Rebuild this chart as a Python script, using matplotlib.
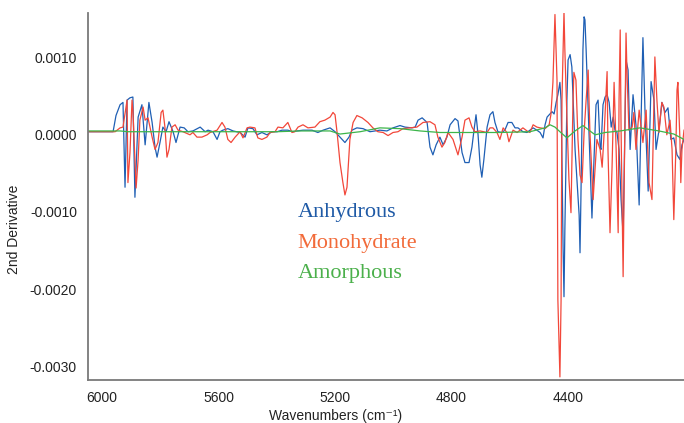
import matplotlib
matplotlib.use("Agg")
import matplotlib.pyplot as plt
import numpy as np

# 2nd derivative NIR spectra, values in units of 1e-4
anhydrous_wn = [6048, 5962, 5952, 5938, 5928, 5921, 5914, 5904, 5894, 5887, 5876, 5863, 5852, 5839,
                5828, 5818, 5811, 5801, 5791, 5780, 5770, 5756, 5746, 5732, 5718, 5705, 5688, 5663,
                5646, 5636, 5619, 5605, 5595, 5585, 5568, 5550, 5526, 5509, 5499, 5482, 5468, 5451,
                5434, 5416, 5399, 5382, 5362, 5345, 5331, 5310, 5296, 5279, 5259, 5241, 5217, 5200,
                5183, 5166, 5152, 5142, 5125, 5104, 5080, 5046, 5022, 5001, 4977, 4960, 4936, 4925,
                4915, 4901, 4884, 4874, 4864, 4853, 4840, 4829, 4816, 4805, 4788, 4778, 4764, 4754,
                4740, 4730, 4723, 4716, 4709, 4702, 4696, 4689, 4678, 4668, 4658, 4651, 4641, 4627,
                4617, 4606, 4593, 4582, 4572, 4555, 4541, 4531, 4520, 4507, 4496, 4486, 4479, 4472,
                4455, 4448, 4441, 4435, 4428, 4424, 4421, 4417, 4414, 4411, 4407, 4404, 4400, 4393,
                4387, 4380, 4376, 4369, 4362, 4359, 4356, 4352, 4349, 4345, 4342, 4338, 4331, 4325,
                4318, 4311, 4304, 4297, 4290, 4287, 4280, 4273, 4266, 4259, 4252, 4245, 4239, 4232,
                4225, 4218, 4211, 4201, 4194, 4187, 4177, 4167, 4156, 4143, 4136, 4125, 4115, 4105,
                4098, 4088, 4078, 4067, 4057, 4047, 4037, 4026, 4016, 4009, 4002]
anhydrous_val = [0.4, 0.4, 2.5, 3.9, 4.2, -6.8, 4.5, 4.8, 4.9, -8.1, 2.3, 3.9, -1.3, 4.2,
                 1.6, -1.6, -2.9, -1.0, 1.0, 0.4, 1.7, 0.4, -1.0, 1.0, 0.9, 0.4, 0.5, 1.0,
                 0.4, 0.6, 0.4, -0.6, 0.4, 0.6, 0.8, 0.5, 0.3, -0.3, 0.9, 0.8, 0.0, 0.3,
                 0.0, 0.4, 0.4, 0.6, 0.6, 0.4, 0.5, 0.6, 0.6, 0.6, 0.3, 0.6, 0.9, 0.4,
                 -0.3, -1.0, -0.3, 0.6, 0.9, 0.8, 0.4, 0.6, 0.5, 0.9, 1.2, 1.0, 0.9, 1.0,
                 1.9, 2.2, 1.6, -1.6, -2.6, -1.3, -0.3, -1.3, -0.3, 1.3, 2.1, 1.8, -2.3, -3.6,
                 -3.6, -1.6, 0.6, 2.6, 0.0, -3.9, -5.5, -3.2, 1.0, 2.6, 3.0, 1.6, 0.4, 0.3,
                 0.6, 1.6, 1.6, 0.9, 0.9, 0.4, 0.3, 0.6, 0.9, 0.6, 0.3, -0.4, 1.3, 2.3,
                 3.0, 2.7, 4.2, 5.2, 6.8, 4.5, -3.2, -14.9, -21.0, -12.3, -3.2, 4.5, 9.7, 10.4,
                 8.8, 1.9, -1.9, -6.2, -10.4, -15.3, -8.4, 1.9, 11.0, 15.3, 14.9, 11.0, 3.2, -3.2,
                 -10.8, -3.2, 3.9, 4.5, -1.6, -1.9, 3.9, 4.9, 5.2, 4.2, 1.0, 2.3, 0.6, 0.3,
                 -1.9, -8.4, -13.0, 9.7, 8.4, -1.9, 5.2, 1.3, -9.1, 12.6, 3.2, -7.3, 6.9, 4.5,
                 -1.9, 0.6, 4.2, 2.9, 3.5, -0.6, -0.4, -2.6, -3.2, -1.3, -0.6]

monohydrate_wn = [6048, 5955, 5938, 5928, 5914, 5911, 5904, 5897, 5894, 5883, 5876, 5870, 5859, 5852,
                  5842, 5828, 5818, 5808, 5797, 5791, 5784, 5777, 5770, 5760, 5749, 5739, 5722, 5698,
                  5688, 5674, 5657, 5639, 5629, 5605, 5588, 5578, 5568, 5557, 5543, 5526, 5516, 5502,
                  5492, 5475, 5465, 5451, 5434, 5423, 5406, 5396, 5379, 5362, 5348, 5338, 5327, 5310,
                  5293, 5269, 5252, 5235, 5217, 5207, 5200, 5193, 5183, 5173, 5166, 5159, 5149, 5138,
                  5125, 5107, 5087, 5070, 5053, 5035, 5018, 5001, 4984, 4967, 4943, 4919, 4898, 4874,
                  4857, 4847, 4833, 4823, 4812, 4795, 4778, 4764, 4754, 4740, 4730, 4720, 4702, 4678,
                  4668, 4658, 4644, 4634, 4623, 4610, 4603, 4589, 4575, 4565, 4555, 4541, 4531, 4520,
                  4507, 4496, 4479, 4465, 4459, 4452, 4445, 4438, 4435, 4428, 4424, 4421, 4414, 4411,
                  4404, 4397, 4390, 4383, 4380, 4373, 4366, 4359, 4352, 4345, 4338, 4331, 4325, 4314,
                  4307, 4301, 4290, 4283, 4276, 4266, 4263, 4256, 4249, 4242, 4235, 4228, 4225, 4221,
                  4218, 4211, 4208, 4201, 4198, 4191, 4180, 4174, 4167, 4156, 4143, 4132, 4122, 4112,
                  4105, 4102, 4095, 4088, 4078, 4071, 4061, 4050, 4043, 4037, 4030, 4026, 4023, 4016,
                  4013, 4009, 4002]
monohydrate_val = [0.4, 0.4, 0.9, 1.0, 4.5, -6.2, -2.3, 4.5, 3.2, -6.9, -3.2, 1.9, 3.6, 1.9,
                   2.2, -0.3, -1.9, -1.0, 2.9, 3.2, 1.0, -2.9, -1.9, 1.0, 1.3, 0.6, 0.4, 0.0,
                   0.3, -0.3, -0.3, 0.0, 0.3, 0.6, 1.6, 1.0, -0.6, -1.0, -0.3, 0.4, -0.4, 0.9,
                   1.0, 0.9, -0.4, -0.6, -0.3, 0.3, 0.4, 1.0, 0.9, 1.6, 0.3, 0.4, 1.0, 1.3,
                   0.9, 1.0, 1.7, 1.9, 2.3, 2.9, 2.6, 0.3, -3.6, -6.2, -7.8, -6.8, -0.6, 1.6,
                   2.5, 2.2, 1.6, 0.9, 0.4, 0.3, -0.1, 0.3, 0.4, 0.8, 0.9, 1.0, 1.6, 1.7,
                   1.3, -0.3, -1.6, -1.0, 0.3, -0.6, -2.6, -0.3, 1.9, 2.2, 1.0, 0.4, 0.5, 0.3,
                   0.9, 0.9, 0.3, -0.6, 0.9, 0.3, -0.9, 0.6, 0.3, 0.6, 0.9, 0.5, 0.3, 1.3,
                   1.0, 0.9, 0.8, 1.3, 2.6, 6.8, 15.6, 7.1, -21.4, -31.4, -21.4, 4.5, 16.0, 11.0,
                   2.3, -5.8, -10.1, 4.5, 8.1, 7.1, -0.6, -5.2, -6.2, 0.3, 4.5, 8.4, 0.3, -8.4,
                   -4.2, -0.6, -1.9, -4.2, 0.3, 8.2, -1.9, -12.7, -4.2, 6.8, -1.9, -12.7, 4.5, 13.6,
                   0.6, -18.4, -8.4, 13.2, 8.4, 0.6, 1.0, 2.9, -1.9, 3.2, -1.0, 3.2, -6.2, -8.4,
                   4.5, 10.1, 4.5, 0.3, 4.2, 3.6, 0.0, 1.9, -1.9, -11.0, -1.9, 5.8, 6.8, -0.6,
                   -6.2, -1.9, 0.6]

amorphous_wn = [6048, 5938, 5911, 5800, 5600, 5400, 5320, 5217, 5183, 5114, 5046, 4977, 4908, 4840,
                4737, 4634, 4531, 4479, 4462, 4445, 4428, 4404, 4376, 4349, 4325, 4307, 4273, 4221,
                4153, 4088, 4037, 4002]
amorphous_val = [0.5, 0.5, 0.4, 0.4, 0.4, 0.4, 0.5, 0.5, 0.1, 0.4, 0.9, 0.8, 0.5, 0.3,
                 0.3, 0.3, 0.4, 0.9, 1.3, 1.0, 0.4, -0.4, 0.5, 1.2, 0.5, 0.0, 0.3, 0.5,
                 0.9, 0.5, 0.1, -0.6]

series_names = ["Anhydrous", "Monohydrate", "Amorphous"]
line_colors = ["#1f5fb4", "#f2473a", "#3cb54a"]
text_colors = ["#1f5aa6", "#f26b3a", "#4bb04b"]

plt.rcParams['font.family'] = ['Liberation Sans', 'DejaVu Sans']

fig = plt.figure(figsize=(6.84, 4.23), dpi=100)
ax = fig.add_axes([0.1287, 0.1017, 0.8713, 0.8676])

scale = 1e-4
ax.plot(anhydrous_wn, np.array(anhydrous_val) * scale, color=line_colors[0], lw=0.9)
ax.plot(monohydrate_wn, np.array(monohydrate_val) * scale, color=line_colors[1], lw=0.9)
ax.plot(amorphous_wn, np.array(amorphous_val) * scale, color=line_colors[2], lw=0.9)

ax.set_xlim(6048, 4002)
ax.set_ylim(-0.00318, 0.00158)
ax.set_xticks([6000, 5600, 5200, 4800, 4400])
ax.set_xticklabels(["6000", "5600", "5200", "4800", "4400"])
ax.set_yticks([0.0010, 0.0, -0.0010, -0.0020, -0.0030])
ax.set_yticklabels(["0.0010", "0.0000", "-0.0010", "-0.0020", "-0.0030"])
ax.tick_params(length=0, labelsize=10, pad=8, colors='#222222')

for s in ['top', 'right']:
    ax.spines[s].set_visible(False)
for s in ['left', 'bottom']:
    ax.spines[s].set_color('#7a7a7a')
    ax.spines[s].set_linewidth(1.3)

ax.set_ylabel("2nd Derivative", fontsize=10, color='#222222')
ax.yaxis.set_label_coords(-0.112, 0.41)
ax.set_xlabel("Wavenumbers (cm\u207b\u00b9)", fontsize=10, color='#222222')
ax.xaxis.set_label_coords(0.415, -0.08)

# coloured text legend
for i, name in enumerate(series_names):
    ax.text(0.352, 0.455 - i * 0.082, name, transform=ax.transAxes, fontsize=16,
            family='Liberation Serif', color=text_colors[i], va='center', ha='left')

fig.savefig("out.png", dpi=100)
